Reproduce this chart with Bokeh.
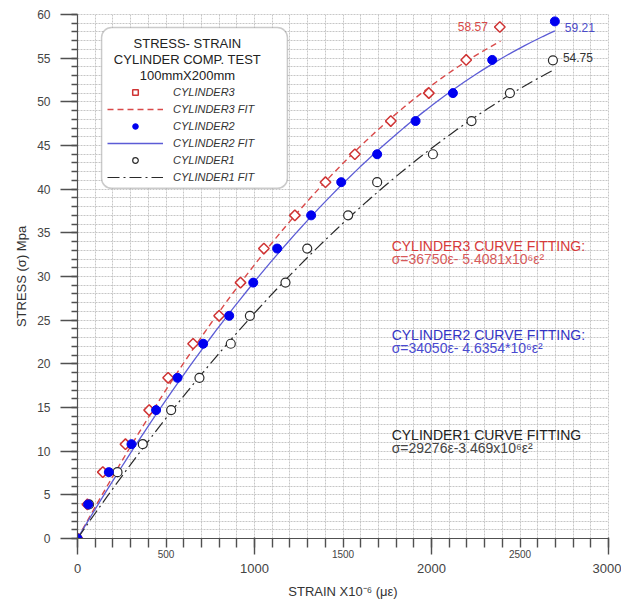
import numpy as np
from bokeh.plotting import figure
from bokeh.models import (LinearAxis, FixedTicker, Range1d, Label,
                          BoxAnnotation, Legend, LegendItem, Grid)
from bokeh.embed import file_html
from bokeh.resources import INLINE

# ---------------- data ----------------
cyl3_strain = [0, 56, 143, 271, 405, 512, 653, 800, 921, 1053, 1228, 1401, 1567, 1770, 1985, 2196, 2386]
cyl3_stress = [0, 3.9, 7.6, 10.8, 14.7, 18.4, 22.3, 25.5, 29.3, 33.2, 37.0, 40.8, 44.0, 47.8, 51.0, 54.8, 58.57]

cyl2_strain = [0, 60, 177, 305, 444, 565, 710, 857, 993, 1128, 1320, 1490, 1693, 1910, 2121, 2343, 2697]
cyl2_stress = [0, 3.9, 7.6, 10.8, 14.7, 18.4, 22.3, 25.5, 29.3, 33.2, 37.0, 40.8, 44.0, 47.8, 51.0, 54.8, 59.21]

cyl1_strain = [0, 65, 226, 369, 529, 689, 866, 974, 1175, 1298, 1529, 1693, 2008, 2226, 2443, 2686]
cyl1_stress = [0, 3.9, 7.6, 10.8, 14.7, 18.4, 22.3, 25.5, 29.3, 33.2, 37.0, 40.8, 44.0, 47.8, 51.0, 54.75]

# fitted curves: sigma = a*eps - b*eps^2 (eps in strain)
fit_names = ["CYLINDER3", "CYLINDER2", "CYLINDER1"]
fit_a = [36750, 34050, 29276]
fit_b = [5.4081e6, 4.6354e6, 3.469e6]
fit_end = [2390, 2697, 2686]   # micro-strain where each fit line ends

fit_labels = ["CYLINDER3 CURVE FITTING:", "CYLINDER2 CURVE FITTING:", "CYLINDER1 CURVE FITTING"]
fit_eqs = ["σ=36750ε- 5.4081x10⁶ε²", "σ=34050ε- 4.6354*10⁶ε²", "σ=29276ε-3.469x10⁶ε²"]

x_major_low = [0, 1000, 2000, 3000]
x_major_high = [500, 1500, 2500]
x_minor = list(range(0, 3001, 100))
y_major = list(range(0, 61, 5))
y_minor = list(range(0, 61, 1))

FONT = "Liberation Sans"
RED, RED_LINE, BLUE, BLUE_LINE, BLACK = "#cf3434", "#d94a4a", "#0000f0", "#5c5cd6", "#2a2a2a"
AXC = "#505050"
TW = 1.4

p = figure(width=621, height=602, x_range=Range1d(0, 3000), y_range=Range1d(0, 60),
           output_backend="svg", toolbar_location=None,
           min_border_left=77, min_border_right=13, min_border_top=14, min_border_bottom=64)
p.outline_line_color = "#c8c8c8"
p.outline_line_dash = "2 1"
p.background_fill_color = "white"
p.border_fill_color = "white"
p.grid.visible = False

# ---------------- grid (every 100 strain, every 1 MPa) ----------------
p.add_layout(Grid(dimension=0, ticker=FixedTicker(ticks=x_minor, minor_ticks=[]),
                  grid_line_color="#c6c6c6", grid_line_dash="2 1", grid_line_width=1,
                  level="underlay"))
p.add_layout(Grid(dimension=1, ticker=FixedTicker(ticks=y_minor, minor_ticks=[]),
                  grid_line_color="#c6c6c6", grid_line_dash="2 1", grid_line_width=1,
                  level="underlay"))

# ---------------- x axes ----------------
# inner axis: short ticks every 100, small labels at 500/1500/2500
axA = p.xaxis[0]
axA.ticker = FixedTicker(ticks=x_minor, minor_ticks=[])
axA.major_label_overrides = {v: ("" if v not in x_major_high else str(v)) for v in x_minor}
axA.major_tick_out = 9
axA.major_tick_in = 0
axA.minor_tick_out = 0
axA.major_tick_line_width = TW
axA.major_tick_line_color = AXC
axA.major_label_text_font = FONT
axA.major_label_text_font_size = "10px"
axA.major_label_text_color = "#444444"
axA.major_label_standoff = 2
axA.axis_line_color = AXC
axA.axis_line_width = 1.2

# outer axis: long ticks at 0/1000/2000/3000 with large labels
axB = LinearAxis(ticker=FixedTicker(ticks=x_major_low, minor_ticks=[]))
axB.axis_line_color = None
axB.major_tick_in = 23
axB.major_tick_out = -6
axB.minor_tick_out = 0
axB.major_tick_line_color = AXC
axB.major_tick_line_width = TW
axB.major_label_text_font = FONT
axB.major_label_text_font_size = "13px"
axB.major_label_text_color = "#444444"
axB.major_label_standoff = 3
axB.axis_label = "STRAIN X10⁻⁶ (με)"
axB.axis_label_text_font = FONT
axB.axis_label_text_font_size = "13px"
axB.axis_label_text_font_style = "normal"
axB.axis_label_text_color = "#333333"
axB.axis_label_standoff = 8
p.add_layout(axB, "below")

# ---------------- y axes ----------------
ayA = p.yaxis[0]
ayA.ticker = FixedTicker(ticks=y_minor, minor_ticks=[])
ayA.major_label_overrides = {v: "" for v in y_minor}
ayA.major_tick_out = 6
ayA.major_tick_in = 0
ayA.minor_tick_out = 0
ayA.major_tick_line_width = TW
ayA.major_tick_line_color = AXC
ayA.major_label_standoff = 0
ayA.axis_line_color = AXC
ayA.axis_line_width = 1.2

ayB = LinearAxis(ticker=FixedTicker(ticks=y_major, minor_ticks=[]))
ayB.axis_line_color = None
ayB.major_tick_in = 6
ayB.major_tick_out = 11
ayB.minor_tick_out = 0
ayB.major_tick_line_color = AXC
ayB.major_tick_line_width = TW
ayB.major_label_standoff = 10
ayB.major_label_text_font = FONT
ayB.major_label_text_font_size = "12px"
ayB.major_label_text_color = "#444444"
ayB.axis_label = "STRESS (σ) Mpa"
ayB.axis_label_text_font = FONT
ayB.axis_label_text_font_size = "13px"
ayB.axis_label_text_font_style = "normal"
ayB.axis_label_text_color = "#333333"
ayB.axis_label_standoff = 5
p.add_layout(ayB, "left")

# ---------------- fit curves ----------------
fit_styles = [dict(line_color=RED_LINE, line_dash="6 4", line_width=1.4),
              dict(line_color=BLUE_LINE, line_width=1.3),
              dict(line_color=BLACK, line_dash="12 4 2 4", line_width=1.2)]
fit_r = []
for a, b, end, st in zip(fit_a, fit_b, fit_end, fit_styles):
    xs = np.linspace(0, end, 80)
    eps = xs * 1e-6
    ys = a * eps - b * eps ** 2
    fit_r.append(p.line(xs, ys, **st))

# ---------------- points ----------------
r1 = p.scatter(cyl1_strain, cyl1_stress, marker="circle", size=9, fill_color="white",
               line_color=BLACK, line_width=1.2)
r3 = p.scatter(cyl3_strain, cyl3_stress, marker="square", angle=np.pi / 4, size=7.5,
               fill_color="white", line_color=RED, line_width=1.5)
r2 = p.scatter(cyl2_strain, cyl2_stress, marker="circle", size=9, fill_color=BLUE,
               line_color=BLUE, line_width=1)

# value labels at the last points
p.add_layout(Label(x=cyl3_strain[-1], y=cyl3_stress[-1], text=f"{cyl3_stress[-1]:.2f}",
                   x_offset=-12, text_align="right", text_baseline="middle",
                   text_font=FONT, text_font_size="12px", text_color=RED_LINE))
p.add_layout(Label(x=cyl2_strain[-1], y=cyl2_stress[-1], text=f"{cyl2_stress[-1]:.2f}",
                   x_offset=10, y_offset=-6, text_align="left", text_baseline="middle",
                   text_font=FONT, text_font_size="12px", text_color="#4a4ac8"))
p.add_layout(Label(x=cyl1_strain[-1], y=cyl1_stress[-1], text=f"{cyl1_stress[-1]:.2f}",
                   x_offset=10, y_offset=3, text_align="left", text_baseline="middle",
                   text_font=FONT, text_font_size="12px", text_color="#333333"))

# curve-fitting annotations
ann_colors = [("#d63a3a", "#d65a5a"), ("#3434c4", "#4a4ad0"), ("#222222", "#444444")]
ann_y = [33.5, 23.3, 11.8]
for txt, eq, (c1, c2), yy in zip(fit_labels, fit_eqs, ann_colors, ann_y):
    p.add_layout(Label(x=1775, y=yy, text=txt, text_align="left", text_baseline="middle",
                       text_font=FONT, text_font_size="14px", text_color=c1))
    p.add_layout(Label(x=1775, y=yy, y_offset=-13, text=eq, text_align="left",
                       text_baseline="middle", text_font=FONT, text_font_size="14px",
                       text_color=c2))

# ---------------- legend ----------------
box = BoxAnnotation(left=136, right=1186, top=58.5, bottom=40.1, fill_color="white",
                    fill_alpha=1, line_color=AXC, line_width=1.5, border_radius=10)
p.add_layout(box)
for i, t in enumerate(["STRESS- STRAIN", "CYLINDER COMP. TEST", "100mmX200mm"]):
    p.add_layout(Label(x=621, y=56.7, y_offset=-16 * i, text=t, text_align="center",
                       text_baseline="middle", text_font=FONT, text_font_size="13px",
                       text_color="#222222"))

items = [LegendItem(label="CYLINDER3", renderers=[r3]),
         LegendItem(label="CYLINDER3 FIT", renderers=[fit_r[0]]),
         LegendItem(label="CYLINDER2", renderers=[r2]),
         LegendItem(label="CYLINDER2 FIT", renderers=[fit_r[1]]),
         LegendItem(label="CYLINDER1", renderers=[r1]),
         LegendItem(label="CYLINDER1 FIT", renderers=[fit_r[2]])]
legend = Legend(items=items, location=(30, 354), padding=0, margin=0, spacing=3,
                glyph_width=56, glyph_height=14, label_height=14, label_standoff=10,
                label_text_font=FONT, label_text_font_size="11px",
                label_text_font_style="italic", label_text_color="#333333",
                border_line_color=None, background_fill_alpha=0)
p.add_layout(legend)

open("out.html", "w").write(file_html(p, INLINE))
